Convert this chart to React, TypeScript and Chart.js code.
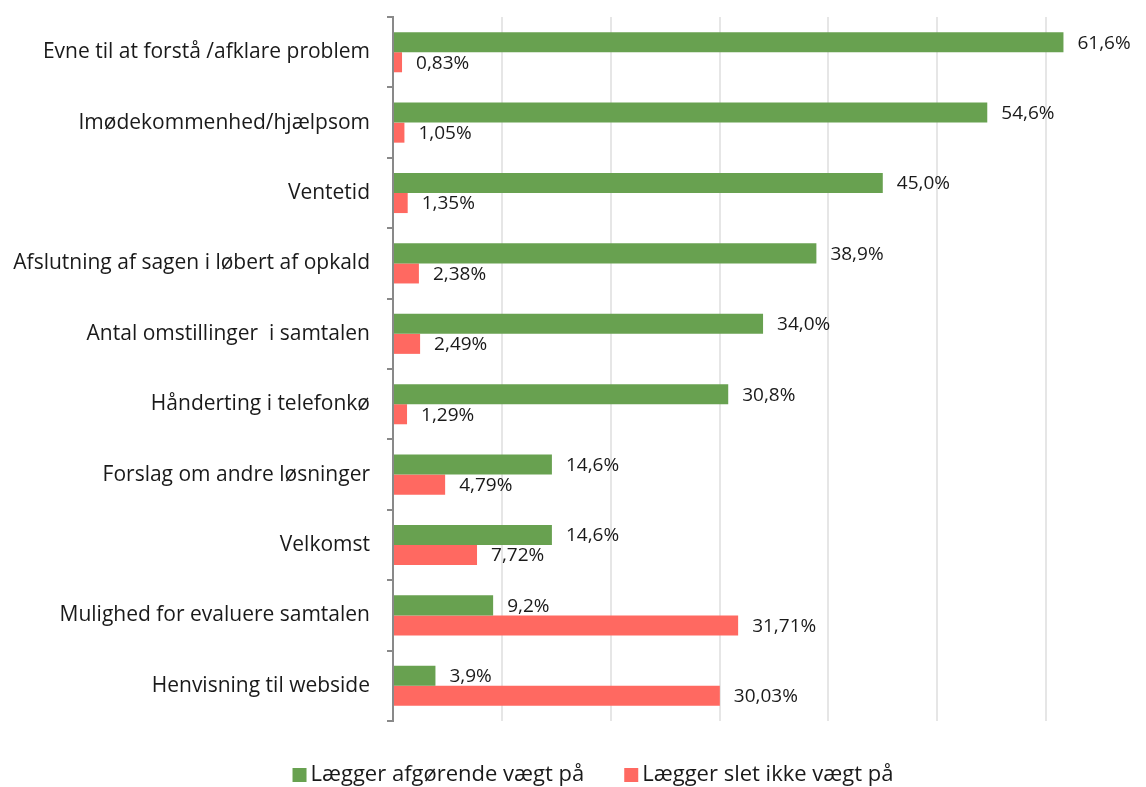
import React, { useEffect, useRef } from "react";
import { Chart, registerables } from "chart.js";

Chart.register(...registerables);

const categories = [
  "Evne til at forstå /afklare problem",
  "Imødekommenhed/hjælpsom",
  "Ventetid",
  "Afslutning af sagen i løbert af opkald",
  "Antal omstillinger  i samtalen",
  "Hånderting i telefonkø",
  "Forslag om andre løsninger",
  "Velkomst",
  "Mulighed for evaluere samtalen",
  "Henvisning til webside",
];
const seriesNames = ["Lægger afgørende vægt på", "Lægger slet ikke vægt på"];
const afgorende = [61.6, 54.6, 45.0, 38.9, 34.0, 30.8, 14.6, 14.6, 9.2, 3.9];
const sletIkke = [0.83, 1.05, 1.35, 2.38, 2.49, 1.29, 4.79, 7.72, 31.71, 30.03];
const decimals = [1, 2];
const gridTicks = [0, 10, 20, 30, 40, 50, 60];

const GREEN = "#68a150";
const RED = "#ff6961";
const TEXT = "#1a1a1a";
const FONT = "'Open Sans', 'Noto Sans', sans-serif";

const labelPlugin = {
  id: "barLabels",
  afterDatasetsDraw(chart: any) {
    const ctx = chart.ctx;
    ctx.save();
    ctx.font = `19px ${FONT}`;
    ctx.fillStyle = TEXT;
    ctx.textBaseline = "middle";
    ctx.textAlign = "left";
    chart.data.datasets.forEach((ds: any, di: number) => {
      const meta = chart.getDatasetMeta(di);
      meta.data.forEach((el: any, i: number) => {
        const v = ds.data[i] as number;
        const txt = v.toFixed(decimals[di]).replace(".", ",") + "%";
        ctx.fillText(txt, el.x + 14, el.y + 1);
      });
    });
    ctx.restore();
  },
};

const legendPlugin = {
  id: "bottomLegend",
  afterDraw(chart: any) {
    const ctx = chart.ctx;
    ctx.save();
    ctx.font = `22px ${FONT}`;
    ctx.textBaseline = "middle";
    ctx.textAlign = "left";
    const box = 14;
    const gapText = 4;
    const gapItems = 40;
    const items = chart.data.datasets.map((ds: any) => ({
      label: ds.label as string,
      color: ds.backgroundColor as string,
      w: box + gapText + ctx.measureText(ds.label).width,
    }));
    const total = items.reduce((a: number, it: any) => a + it.w, 0) + gapItems * (items.length - 1);
    let x = (chart.width - total) / 2 + 20;
    const cy = 775;
    items.forEach((it: any) => {
      ctx.fillStyle = it.color;
      ctx.fillRect(x, cy - box / 2, box, box);
      ctx.fillStyle = TEXT;
      ctx.fillText(it.label, x + box + gapText, cy);
      x += it.w + gapItems;
    });
    ctx.restore();
  },
};

export default function App() {
  const ref = useRef<HTMLCanvasElement | null>(null);
  useEffect(() => {
    document.body.style.margin = "0";
    if (!ref.current) return;
    const chart = new Chart(ref.current, {
      type: "bar",
      data: {
        labels: categories,
        datasets: [
          {
            label: seriesNames[0],
            data: afgorende,
            backgroundColor: GREEN,
            categoryPercentage: 0.57,
            barPercentage: 1,
          },
          {
            label: seriesNames[1],
            data: sletIkke,
            backgroundColor: RED,
            categoryPercentage: 0.57,
            barPercentage: 1,
          },
        ],
      },
      options: {
        indexAxis: "y",
        animation: false,
        responsive: false,
        maintainAspectRatio: false,
        layout: { padding: { top: 17, right: 2, left: 0, bottom: 66 } },
        scales: {
          x: {
            min: 0,
            max: 69,
            afterBuildTicks: (s: any) => {
              s.ticks = gridTicks.map((v) => ({ value: v }));
            },
            afterFit: (s: any) => {
              s.height = 0;
            },
            ticks: { display: false },
            border: { display: false },
            grid: { color: "#e6e6e6", lineWidth: 2, drawTicks: false },
          },
          y: {
            afterFit: (s: any) => {
              s.width = 393;
              s.paddingTop = 0;
              s.paddingBottom = 0;
            },
            ticks: {
              color: TEXT,
              font: { family: FONT, size: 21 },
              padding: 17,
            },
            border: { color: "#898989", width: 2 },
            grid: {
              drawOnChartArea: false,
              color: "#898989",
              tickLength: 6,
              lineWidth: 2,
            },
          },
        },
        plugins: {
          legend: { display: false },
          tooltip: { enabled: false },
        },
      },
      plugins: [labelPlugin, legendPlugin],
    });
    return () => chart.destroy();
  }, []);
  return (
    <div style={{ position: "absolute", left: 0, top: 0, width: 1146, height: 787, background: "#fff" }}>
      <canvas ref={ref} width={1146} height={787} />
    </div>
  );
}
